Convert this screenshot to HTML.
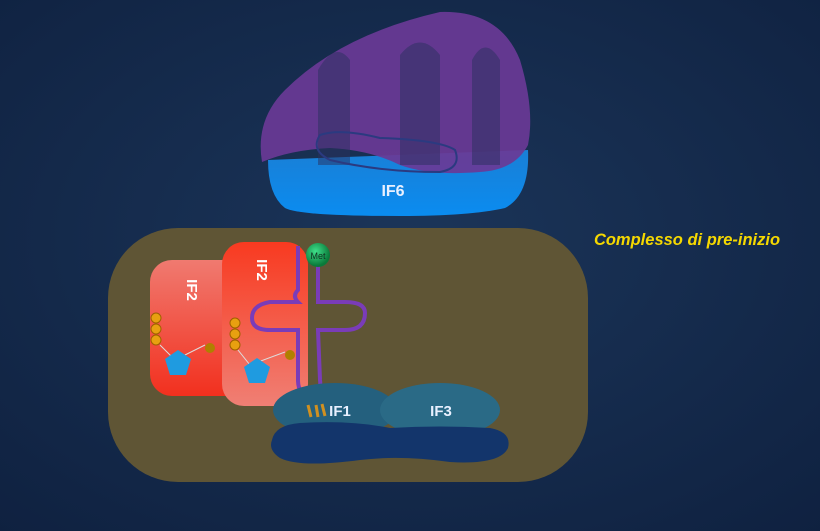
<!DOCTYPE html>
<html><head><style>body{margin:0;background:#14294a}svg{display:block}</style></head><body>
<svg width="820" height="531" viewBox="0 0 820 531" xmlns="http://www.w3.org/2000/svg">
<defs>
<radialGradient id="bg" cx="0.5" cy="0.45" r="0.75"><stop offset="0" stop-color="#1b3559"/><stop offset="1" stop-color="#0f2140"/></radialGradient>
<linearGradient id="blue" x1="0" y1="0" x2="0" y2="1"><stop offset="0" stop-color="#1a7fd6"/><stop offset="1" stop-color="#0a8cf0"/></linearGradient>
<linearGradient id="red1" x1="0" y1="0" x2="0" y2="1"><stop offset="0" stop-color="#f07a70"/><stop offset="1" stop-color="#f2301e"/></linearGradient>
<linearGradient id="red2" x1="0" y1="0" x2="0" y2="1"><stop offset="0" stop-color="#f83a20"/><stop offset="1" stop-color="#f07f74"/></linearGradient>
<radialGradient id="met" cx="0.4" cy="0.35" r="0.6"><stop offset="0" stop-color="#3fe08a"/><stop offset="1" stop-color="#0a7a3a"/></radialGradient>
</defs>
<rect width="820" height="531" fill="url(#bg)"/>
<rect x="108" y="228" width="480" height="254" rx="70" fill="#5f5535"/>
<path d="M268 160 L528 150 Q530 195 505 208 Q470 216 400 216 Q300 216 285 208 Q268 195 268 160 Z" fill="url(#blue)"/>
<path d="M262 162 Q255 120 285 90 Q340 35 440 12 Q500 10 520 60 Q535 110 528 145 Q515 170 480 172 Q430 176 400 165 Q370 150 330 148 Q290 150 262 162 Z" fill="#6a3a96" opacity="0.92"/>
<path d="M318 165 L318 70 Q335 40 350 60 L350 165" fill="#2a2f5e" opacity="0.5"/>
<path d="M400 165 L400 55 Q420 30 440 55 L440 165" fill="#2a2f5e" opacity="0.5"/>
<path d="M472 165 L472 60 Q485 35 500 60 L500 165" fill="#2a2f5e" opacity="0.5"/>
<path d="M320 135 Q340 128 380 138 Q440 140 455 150 Q462 168 440 172 Q380 172 330 160 Q310 150 320 135 Z" fill="none" stroke="#2b3a80" stroke-width="2"/>
<text x="393" y="196" font-family="Liberation Sans, sans-serif" font-weight="bold" font-size="16" fill="#e8f0ff" text-anchor="middle">IF6</text>
<text x="687" y="245" font-family="Liberation Sans, sans-serif" font-weight="bold" font-style="italic" font-size="16.5" fill="#f5d800" text-anchor="middle">Complesso di pre-inizio</text>
<rect x="150" y="260" width="102" height="136" rx="22" fill="url(#red1)"/>
<text x="187" y="290" font-family="Liberation Sans, sans-serif" font-weight="bold" font-size="15" fill="#fff" transform="rotate(90 187 290)" text-anchor="middle">IF2</text>
<g fill="#e8a010" stroke="#a06000" stroke-width="1"><circle cx="156" cy="318" r="5"/><circle cx="156" cy="329" r="5"/><circle cx="156" cy="340" r="5"/></g>
<path d="M160 345 L175 360 L205 345" stroke="#ddd" fill="none"/>
<polygon points="178,350 191,359 186,375 170,375 165,359" fill="#1f9be0"/>
<circle cx="210" cy="348" r="5" fill="#b08000"/>
<rect x="222" y="242" width="86" height="164" rx="22" fill="url(#red2)"/>
<text x="257" y="270" font-family="Liberation Sans, sans-serif" font-weight="bold" font-size="15" fill="#fff" transform="rotate(90 257 270)" text-anchor="middle">IF2</text>
<g fill="#e8a010" stroke="#a06000" stroke-width="1"><circle cx="235" cy="323" r="5"/><circle cx="235" cy="334" r="5"/><circle cx="235" cy="345" r="5"/></g>
<path d="M238 350 L250 365 L285 352" stroke="#ddd" fill="none"/>
<polygon points="257,358 270,367 265,383 249,383 244,367" fill="#1f9be0"/>
<circle cx="290" cy="355" r="5" fill="#b08000"/>
<path d="M298 246 L298 290 Q292 296 298 302 L270 302 Q252 305 252 318 Q252 330 270 330 L298 330 L298 380 Q298 395 310 396 Q322 394 320 380 L318 330 L345 330 Q365 330 365 313 Q365 302 345 302 L318 302 L318 258" fill="none" stroke="#7a3cb8" stroke-width="4"/>
<circle cx="318" cy="255" r="12" fill="url(#met)"/>
<text x="318" y="259" font-family="Liberation Sans, sans-serif" font-size="9" fill="#103020" text-anchor="middle">Met</text>
<ellipse cx="335" cy="410" rx="62" ry="27" fill="#24607e"/>
<ellipse cx="440" cy="410" rx="60" ry="27" fill="#2a6a86"/>
<path d="M308 405 l3 12 M316 405 l2 12 M322 404 l3 12" stroke="#d09020" stroke-width="3"/>
<text x="340" y="416" font-family="Liberation Sans, sans-serif" font-weight="bold" font-size="15" fill="#e8f0ff" text-anchor="middle">IF1</text>
<text x="441" y="416" font-family="Liberation Sans, sans-serif" font-weight="bold" font-size="15" fill="#e8f0ff" text-anchor="middle">IF3</text>
<path d="M272 440 Q275 425 300 423 Q350 420 390 428 Q440 425 490 428 Q512 432 508 448 Q500 465 450 462 Q400 455 360 460 Q300 468 280 458 Q268 450 272 440 Z" fill="#13356b"/>
</svg>
</body></html>
